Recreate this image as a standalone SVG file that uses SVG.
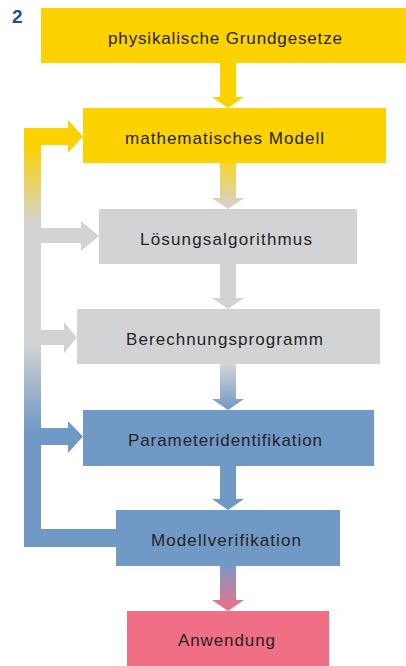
<svg xmlns="http://www.w3.org/2000/svg" width="406" height="666" viewBox="0 0 406 666">
<style>
.t{font-family:"Liberation Sans",Arial,sans-serif;font-size:17px;fill:#262324;text-anchor:middle}
.y{fill:#FCD200}.g{fill:#D2D3D5}.b{fill:#7199C6}.p{fill:#F06F85}
</style>
<defs>
<linearGradient id="side" gradientUnits="userSpaceOnUse" x1="0" y1="0" x2="0" y2="666">
<stop offset="0.218" stop-color="#FCD200"/>
<stop offset="0.338" stop-color="#D2D3D5"/>
<stop offset="0.518" stop-color="#D2D3D5"/>
<stop offset="0.646" stop-color="#7199C6"/>
</linearGradient>
<linearGradient id="yg" x1="0" y1="0" x2="0" y2="1">
<stop offset="0" stop-color="#F8D52A"/>
<stop offset="1" stop-color="#D2D3D5"/>
</linearGradient>
<linearGradient id="gb" x1="0" y1="0" x2="0" y2="1">
<stop offset="0" stop-color="#D2D3D5"/>
<stop offset="1" stop-color="#7199C6"/>
</linearGradient>
<linearGradient id="bp" x1="0" y1="0" x2="0" y2="1">
<stop offset="0" stop-color="#7C98C6"/>
<stop offset="1" stop-color="#F06F85"/>
</linearGradient>
</defs>
<text x="12" y="23" font-family="Liberation Sans,Arial,sans-serif" font-size="19" font-weight="bold" fill="#1E4F9E">2</text>
<g id="connectors">
<path fill="url(#side)" d="M24,128 H68 V120 L83,136.5 L68,153 V145 H41 V228 H81 V221 L99,236 L81,251 V243 H41 V330 H64 V322 L77,337.5 L64,353 V345 H41 V428 H68 V421 L83,436.5 L68,453 V445 H41 V529 H118 V547 H24 Z"/>
<path class="y" d="M220,62 H236 V97 H244 L228,108 L212,97 H220 Z"/>
<path fill="url(#yg)" d="M220,163 H236 V198 H244 L228,209 L212,198 H220 Z"/>
<path class="g" d="M220,264 H236 V298 H244 L228,309 L212,298 H220 Z"/>
<path fill="url(#gb)" d="M220,364 H236 V399 H244 L228,410 L212,399 H220 Z"/>
<path class="b" d="M220,466 H236 V499 H244 L228,510 L212,499 H220 Z"/>
<path fill="url(#bp)" d="M220,566 H236 V600 H244 L228,611 L212,600 H220 Z"/>
</g>
<g id="n1"><rect class="y" x="41" y="8" width="365" height="55"/><text class="t" x="225" y="44" textLength="234" lengthAdjust="spacing">physikalische Grundgesetze</text></g>
<g id="n2"><rect class="y" x="83" y="108" width="303" height="55"/><text class="t" x="224.5" y="144" textLength="199" lengthAdjust="spacing">mathematisches Modell</text></g>
<g id="n3"><rect class="g" x="99" y="209" width="258" height="55"/><text class="t" x="226" y="245" textLength="172" lengthAdjust="spacing">Lösungsalgorithmus</text></g>
<g id="n4"><rect class="g" x="77" y="309" width="303" height="55"/><text class="t" x="224.5" y="345" textLength="197" lengthAdjust="spacing">Berechnungsprogramm</text></g>
<g id="n5"><rect class="b" x="83" y="410" width="291" height="56"/><text class="t" x="225" y="446" textLength="194" lengthAdjust="spacing">Parameteridentifikation</text></g>
<g id="n6"><rect class="b" x="116" y="510" width="224" height="56"/><text class="t" x="226" y="546" textLength="150" lengthAdjust="spacing">Modellverifikation</text></g>
<g id="n7"><rect class="p" x="127" y="611" width="202" height="55"/><text class="t" x="226.5" y="646" textLength="97" lengthAdjust="spacing">Anwendung</text></g>
</svg>
